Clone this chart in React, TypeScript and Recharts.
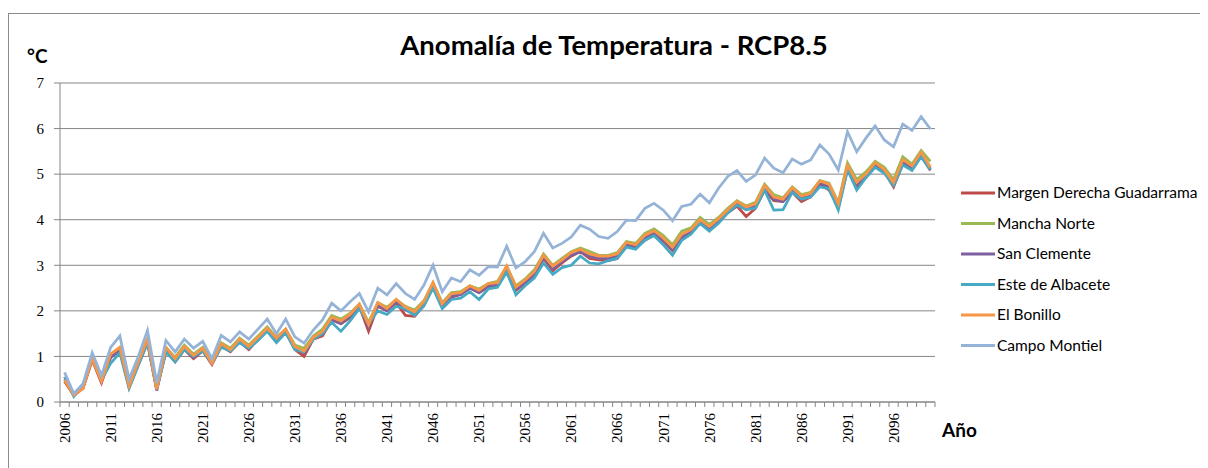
import React from 'react';
import { LineChart, Line, XAxis, YAxis, CartesianGrid } from 'recharts';

// years 2006 .. 2100
const years = [
  2006, 2007, 2008, 2009, 2010, 2011, 2012, 2013, 2014, 2015,
  2016, 2017, 2018, 2019, 2020, 2021, 2022, 2023, 2024, 2025,
  2026, 2027, 2028, 2029, 2030, 2031, 2032, 2033, 2034, 2035,
  2036, 2037, 2038, 2039, 2040, 2041, 2042, 2043, 2044, 2045,
  2046, 2047, 2048, 2049, 2050, 2051, 2052, 2053, 2054, 2055,
  2056, 2057, 2058, 2059, 2060, 2061, 2062, 2063, 2064, 2065,
  2066, 2067, 2068, 2069, 2070, 2071, 2072, 2073, 2074, 2075,
  2076, 2077, 2078, 2079, 2080, 2081, 2082, 2083, 2084, 2085,
  2086, 2087, 2088, 2089, 2090, 2091, 2092, 2093, 2094, 2095,
  2096, 2097, 2098, 2099, 2100,
];

const margenDerecha = [
  0.45, 0.15, 0.3, 0.92, 0.42, 0.98, 1.15, 0.32, 0.82, 1.3,
  0.28, 1.12, 0.88, 1.15, 0.95, 1.12, 0.82, 1.22, 1.1, 1.32,
  1.15, 1.38, 1.58, 1.35, 1.55, 1.15, 1.0, 1.38, 1.45, 1.8,
  1.72, 1.85, 2.1, 1.55, 2.1, 2.0, 2.18, 1.9, 1.88, 2.12,
  2.55, 2.1, 2.3, 2.36, 2.5, 2.4, 2.52, 2.55, 2.9, 2.45,
  2.6, 2.8, 3.15, 2.88, 3.05, 3.2, 3.3, 3.15, 3.12, 3.1,
  3.15, 3.45, 3.38, 3.55, 3.68, 3.52, 3.32, 3.6, 3.72, 3.95,
  3.8, 3.95, 4.15, 4.3, 4.07, 4.25, 4.65, 4.42, 4.4, 4.6,
  4.4, 4.5, 4.78, 4.65, 4.28, 5.1, 4.72, 4.95, 5.18, 5.05,
  4.72, 5.22, 5.1, 5.4, 5.08,
];

const manchaNorte = [
  0.55, 0.18, 0.38, 0.98, 0.5, 1.05, 1.2, 0.4, 0.9, 1.38,
  0.3, 1.2, 0.98, 1.25, 1.05, 1.2, 0.9, 1.3, 1.18, 1.4,
  1.25, 1.45, 1.65, 1.42, 1.6, 1.25, 1.18, 1.45, 1.6, 1.9,
  1.82, 1.95, 2.15, 1.75, 2.18, 2.08, 2.25, 2.1, 2.02, 2.22,
  2.62, 2.18, 2.4, 2.42, 2.55, 2.48, 2.6, 2.65, 2.98, 2.55,
  2.7, 2.9, 3.25, 3.0, 3.15, 3.3, 3.38, 3.3, 3.22, 3.22,
  3.28, 3.52, 3.48, 3.7, 3.8, 3.65, 3.45, 3.75, 3.82, 4.05,
  3.9, 4.05, 4.25, 4.42, 4.3, 4.38, 4.78, 4.55, 4.48, 4.72,
  4.55, 4.6, 4.86, 4.8, 4.38, 5.25, 4.88, 5.05, 5.28, 5.15,
  4.88, 5.38, 5.22, 5.52, 5.28,
];

const sanClemente = [
  0.5, 0.15, 0.32, 0.95, 0.45, 0.98, 1.12, 0.35, 0.85, 1.33,
  0.25, 1.12, 0.9, 1.18, 0.98, 1.15, 0.85, 1.25, 1.12, 1.35,
  1.2, 1.4, 1.58, 1.38, 1.55, 1.18, 1.08, 1.4, 1.5, 1.82,
  1.72, 1.88, 2.1, 1.65, 2.12, 2.0, 2.2, 2.02, 1.92, 2.15,
  2.58, 2.1, 2.32, 2.36, 2.5, 2.4, 2.55, 2.58, 2.92, 2.48,
  2.62, 2.8, 3.18, 2.92, 3.08, 3.22, 3.3, 3.2, 3.15, 3.15,
  3.2, 3.46, 3.4, 3.6, 3.7, 3.55, 3.35, 3.62, 3.73, 3.96,
  3.82, 3.97, 4.18, 4.35, 4.22, 4.3, 4.7, 4.45, 4.4, 4.64,
  4.48, 4.52, 4.8, 4.72, 4.3, 5.15, 4.78, 4.96, 5.2, 5.06,
  4.78, 5.28, 5.12, 5.42, 5.12,
];

const esteAlbacete = [
  0.55, 0.12, 0.35, 0.95, 0.48, 0.85, 1.08, 0.3, 0.8, 1.3,
  0.28, 1.1, 0.88, 1.15, 1.0, 1.12, 0.85, 1.2, 1.12, 1.3,
  1.18, 1.35, 1.55, 1.3, 1.52, 1.15, 1.1, 1.38, 1.5, 1.75,
  1.55, 1.78, 2.05, 1.72, 2.0, 1.92, 2.1, 2.05, 1.9, 2.1,
  2.5, 2.05, 2.25, 2.28, 2.42, 2.25, 2.48, 2.52, 2.85, 2.35,
  2.55, 2.72, 3.05, 2.8, 2.95, 3.0, 3.2, 3.05, 3.03, 3.1,
  3.15, 3.4, 3.35, 3.55, 3.65, 3.45, 3.22, 3.55, 3.68, 3.92,
  3.75, 3.92, 4.15, 4.32, 4.22, 4.25, 4.65, 4.21, 4.22, 4.6,
  4.45, 4.5, 4.72, 4.68, 4.21, 5.1, 4.65, 4.92, 5.15, 5.02,
  4.75, 5.2, 5.08, 5.38, 5.1,
];

const elBonillo = [
  0.48, 0.15, 0.3, 0.95, 0.45, 1.05, 1.2, 0.35, 0.88, 1.38,
  0.28, 1.2, 0.95, 1.22, 1.02, 1.18, 0.85, 1.28, 1.15, 1.38,
  1.22, 1.42, 1.62, 1.4, 1.6, 1.22, 1.12, 1.42, 1.55, 1.86,
  1.78, 1.92, 2.15, 1.7, 2.18, 2.05, 2.25, 2.08, 1.98, 2.2,
  2.62, 2.15, 2.38, 2.4, 2.55, 2.45, 2.6, 2.62, 2.98, 2.52,
  2.68, 2.86, 3.22, 2.98, 3.12, 3.28, 3.35, 3.25, 3.2, 3.2,
  3.25, 3.5, 3.45, 3.66, 3.76, 3.6, 3.4, 3.68, 3.78, 4.0,
  3.85, 4.02, 4.22, 4.4, 4.28, 4.35, 4.75, 4.5, 4.45, 4.7,
  4.52, 4.58, 4.85, 4.78, 4.35, 5.2, 4.82, 5.0, 5.25, 5.1,
  4.82, 5.32, 5.18, 5.48, 5.15,
];

const campoMontiel = [
  0.65, 0.18, 0.4, 1.08, 0.58, 1.2, 1.45, 0.5, 1.0, 1.57,
  0.42, 1.35, 1.1, 1.38, 1.18, 1.33, 0.95, 1.46, 1.32, 1.54,
  1.38, 1.6, 1.82, 1.5, 1.82, 1.43, 1.29, 1.58, 1.8, 2.17,
  2.0, 2.2, 2.38, 1.98, 2.5, 2.35, 2.6, 2.38, 2.25, 2.56,
  3.0, 2.42, 2.72, 2.64, 2.9, 2.78, 2.97, 2.96, 3.42, 2.94,
  3.08, 3.3, 3.7, 3.38, 3.48, 3.62, 3.88, 3.79, 3.63, 3.59,
  3.74, 3.99, 3.98, 4.25, 4.36, 4.21, 3.98, 4.29, 4.34, 4.56,
  4.37, 4.69, 4.95, 5.08, 4.84, 4.98, 5.35, 5.13, 5.03, 5.33,
  5.22, 5.31, 5.64, 5.44, 5.09, 5.93, 5.49, 5.79, 6.06, 5.75,
  5.6, 6.1, 5.96, 6.26, 5.99,
];

const yTicks = [0, 1, 2, 3, 4, 5, 6, 7];

const seriesList = [
  { key: 'margen', name: 'Margen Derecha Guadarrama', color: '#BE4B48', values: margenDerecha },
  { key: 'mancha', name: 'Mancha Norte', color: '#98B954', values: manchaNorte },
  { key: 'clemente', name: 'San Clemente', color: '#7D60A0', values: sanClemente },
  { key: 'este', name: 'Este de Albacete', color: '#46AAC5', values: esteAlbacete },
  { key: 'bonillo', name: 'El Bonillo', color: '#F79646', values: elBonillo },
  { key: 'campo', name: 'Campo Montiel', color: '#95B3D7', values: campoMontiel },
];

const data = years.map((year, i) => {
  const row: Record<string, number> = { year };
  seriesList.forEach(s => { row[s.key] = s.values[i]; });
  return row;
});

const AXIS = '#868686';
const HALF_BAND = 875 / 95 / 2;

// Excel-style category ticks: marks between categories, a label every 5 years
const YearTick = (props: any) => {
  const { x, y, index } = props;
  const last = index === years.length - 1;
  return (
    <g>
      <line x1={x - HALF_BAND} y1={y} x2={x - HALF_BAND} y2={y + 5} stroke={AXIS} />
      {last && <line x1={x + HALF_BAND} y1={y} x2={x + HALF_BAND} y2={y + 5} stroke={AXIS} />}
      {index % 5 === 0 && (
        <text
          x={x}
          y={y + 11}
          transform={`rotate(-90, ${x}, ${y + 11})`}
          textAnchor="end"
          dy="0.35em"
          fontFamily="'Liberation Serif', serif"
          fontSize={15}
          fill="#000"
        >
          {years[index]}
        </text>
      )}
    </g>
  );
};

const App = () => {
  return (
    <div style={{ position: 'relative', width: 1200, height: 460 }}>
      <div
        style={{
          position: 'absolute', left: 0, top: 5, width: 1210, height: 470,
          border: '1px solid #8c8c8c', boxSizing: 'border-box',
        }}
      />
      <div style={{ position: 'absolute', left: 0, top: 0 }}>
        <LineChart
          width={1200}
          height={460}
          data={data}
          margin={{ top: 75, right: 273, bottom: 16, left: 12 }}
        >
          <CartesianGrid vertical={false} stroke={AXIS} strokeWidth={1} />
          <XAxis
            dataKey="year"
            interval={0}
            height={50}
            padding={{ left: HALF_BAND, right: HALF_BAND }}
            axisLine={{ stroke: AXIS }}
            tickLine={false}
            tickSize={0}
            tickMargin={0}
            tick={<YearTick />}
          />
          <YAxis
            width={40}
            domain={[0, 7]}
            ticks={yTicks}
            interval={0}
            axisLine={{ stroke: AXIS }}
            tickLine={{ stroke: AXIS }}
            tickSize={6}
            tickMargin={10}
            tick={{ fontFamily: "'Liberation Serif', serif", fontSize: 15, fill: '#000' }}
          />
          {seriesList.map(s => (
            <Line
              key={s.key}
              dataKey={s.key}
              name={s.name}
              stroke={s.color}
              strokeWidth={2.75}
              dot={false}
              activeDot={false}
              isAnimationActive={false}
            />
          ))}
        </LineChart>
      </div>
      <svg
        width={1210}
        height={460}
        style={{ position: 'absolute', left: 0, top: 0, pointerEvents: 'none' }}
      >
        <text x={606} y={47} textAnchor="middle" fontFamily="Lato, sans-serif" fontWeight="bold" fontSize={27.5} fill="#000">
          Anomalía de Temperatura - RCP8.5
        </text>
        <text x={19} y={55} fontFamily="Lato, sans-serif" fontWeight="bold" fontSize={19} fill="#000">
          °C
        </text>
        <text x={934} y={429} fontFamily="Lato, sans-serif" fontWeight="bold" fontSize={19} fill="#000">
          Año
        </text>
        {seriesList.map((s, i) => {
          const cy = 185 + i * 30.5;
          return (
            <g key={s.key}>
              <line x1={953} y1={cy} x2={987} y2={cy} stroke={s.color} strokeWidth={3} />
              <text x={989} y={cy} dy="0.35em" fontFamily="Lato, sans-serif" fontSize={15.5} fill="#000">
                {s.name}
              </text>
            </g>
          );
        })}
      </svg>
    </div>
  );
};

export default App;
